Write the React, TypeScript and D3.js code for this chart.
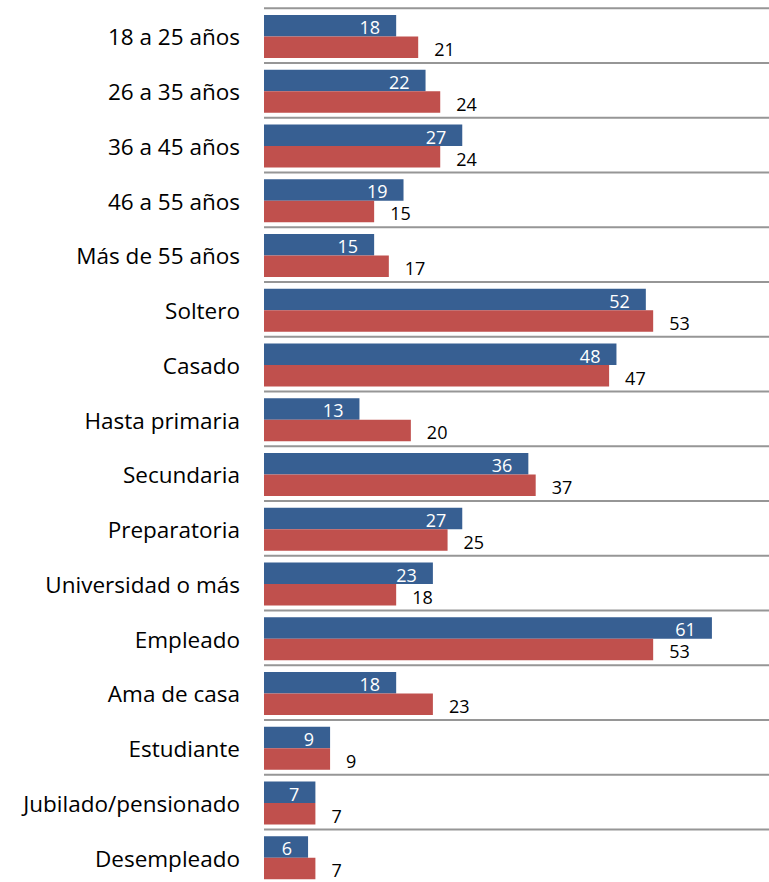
import React from "react";
import * as d3 from "d3";

const categories = [
  "18 a 25 años",
  "26 a 35 años",
  "36 a 45 años",
  "46 a 55 años",
  "Más de 55 años",
  "Soltero",
  "Casado",
  "Hasta primaria",
  "Secundaria",
  "Preparatoria",
  "Universidad o más",
  "Empleado",
  "Ama de casa",
  "Estudiante",
  "Jubilado/pensionado",
  "Desempleado",
];
const seriesBlue = [18, 22, 27, 19, 15, 52, 48, 13, 36, 27, 23, 61, 18, 9, 7, 6];
const seriesRed = [21, 24, 24, 15, 17, 53, 47, 20, 37, 25, 18, 53, 23, 9, 7, 7];

const W = 769;
const H = 882;
const FONT = "'Open Sans', sans-serif";

export default function App() {
  const x = d3.scaleLinear().domain([0, 70]).range([264, 264 + 514]);
  const y = d3
    .scaleBand<string>()
    .domain(categories)
    .range([8.3, 8.3 + 54.75 * categories.length])
    .paddingInner(0)
    .paddingOuter(0);
  const bw = y.bandwidth();
  const barH = 21.5;
  const topPad = 6.7;

  return (
    <svg
      width={W}
      height={H}
      style={{ position: "absolute", left: 0, top: 0, background: "#fff" }}
    >
      {categories.map((c, i) => {
        const y0 = y(c)!;
        return (
          <line
            key={"g" + i}
            x1={264}
            x2={W}
            y1={y0}
            y2={y0}
            stroke="#969696"
            strokeWidth={2}
          />
        );
      })}
      {categories.map((c, i) => {
        const y0 = y(c)!;
        const xb = x(seriesBlue[i]);
        const xr = x(seriesRed[i]);
        return (
          <g key={"b" + i}>
            <rect x={x(0)} y={y0 + topPad} width={xb - x(0)} height={barH} fill="#375F92" />
            <rect x={x(0)} y={y0 + topPad + barH} width={xr - x(0)} height={barH} fill="#C0504D" />
            <text
              x={xb - 16}
              y={y0 + topPad + barH / 2 + 2}
              dy="0.36em"
              textAnchor="end"
              fill="#ffffff"
              fontFamily={FONT}
              fontSize={18}
            >
              {seriesBlue[i]}
            </text>
            <text
              x={xr + 16}
              y={y0 + topPad + barH * 1.5 + 2.5}
              dy="0.36em"
              textAnchor="start"
              fill="#000000"
              fontFamily={FONT}
              fontSize={18}
            >
              {seriesRed[i]}
            </text>
            <text
              x={240}
              y={y0 + bw / 2 + 1.5}
              dy="0.36em"
              textAnchor="end"
              fill="#000000"
              fontFamily={FONT}
              fontSize={22.5}
            >
              {c}
            </text>
          </g>
        );
      })}
    </svg>
  );
}
